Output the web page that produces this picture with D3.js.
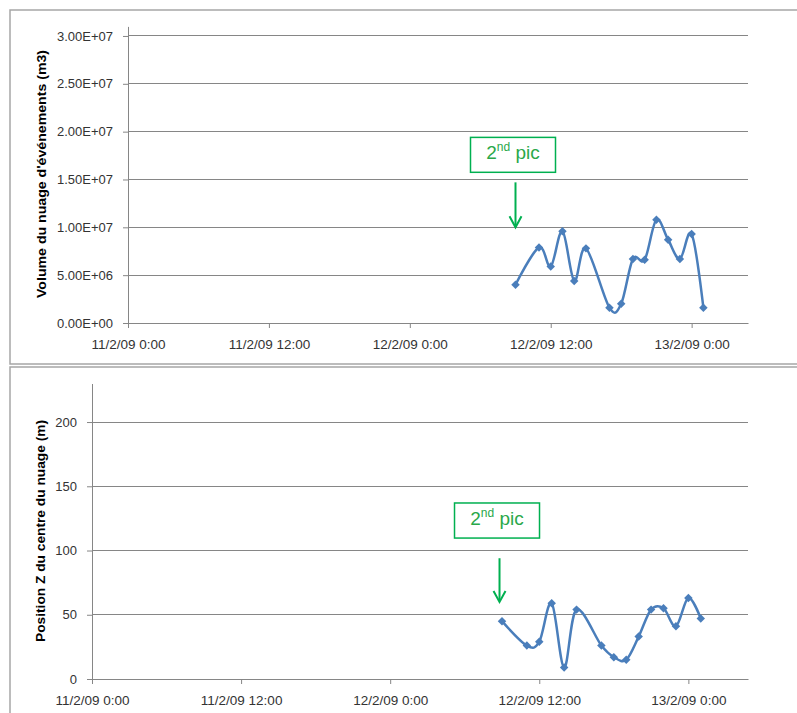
<!DOCTYPE html>
<html><head><meta charset="utf-8">
<script src="https://cdn.jsdelivr.net/npm/d3@7"></script>
<style>body{margin:0;background:#fff}svg{display:block}</style>
</head><body>
<svg id="c" width="797" height="713"></svg>
<script>
// ---- data ----
const times = ["2009-02-12T09:00","2009-02-12T11:00","2009-02-12T12:00","2009-02-12T13:00","2009-02-12T14:00",
  "2009-02-12T15:00","2009-02-12T17:00","2009-02-12T18:00","2009-02-12T19:00","2009-02-12T20:00",
  "2009-02-12T21:00","2009-02-12T22:00","2009-02-12T23:00","2009-02-13T00:00","2009-02-13T01:00"];
const volume = [4.0e6,7.9e6,5.9e6,9.6e6,4.4e6,7.8e6,1.6e6,2.0e6,6.7e6,6.6e6,10.8e6,8.7e6,6.7e6,9.3e6,1.6e6];
const posZ = [45,26,29,59,9,54,26,17,15,33,54,55,41,63,47];
const xTicks = ["2009-02-11T00:00","2009-02-11T12:00","2009-02-12T00:00","2009-02-12T12:00","2009-02-13T00:00"];
const volTicks = [0,5e6,1e7,1.5e7,2e7,2.5e7,3e7];
const zTicks = [0,50,100,150,200];
const xDomain = ["2009-02-11T00:00","2009-02-13T04:48"];
const annoText = "2nd pic";

const parse = d3.isoParse;
const svg = d3.select("#c");
const gridCol = "#868686", lineCol = "#4a7ebb", green = "#00b050";
const font = "'Liberation Sans', Arial, sans-serif";
const fmtX = d3.timeFormat("%-d/%-m/%y %-H:%M");

// panel borders
svg.append("rect").attr("x",10).attr("y",10).attr("width",800).attr("height",354)
  .attr("fill","none").attr("stroke","#a6a6a6").attr("stroke-width",1.5);
svg.append("rect").attr("x",10).attr("y",367).attr("width",800).attr("height",360)
  .attr("fill","none").attr("stroke","#a6a6a6").attr("stroke-width",1.5);

function chart(o){
  const x = d3.scaleTime().domain(xDomain.map(parse)).range([o.left, 748]);
  const y = d3.scaleLinear().domain([0,o.ymax]).range([o.bottom, o.top]);
  const g = svg.append("g");
  // gridlines
  g.selectAll(".grid").data(o.yTicks.filter(d=>d>0)).join("line")
    .attr("x1",o.left).attr("x2",748).attr("y1",d=>y(d)).attr("y2",d=>y(d))
    .attr("stroke",gridCol).attr("stroke-width",1).attr("shape-rendering","crispEdges");
  // y axis
  const ya = g.append("g").attr("transform",`translate(${o.left},0)`)
    .call(d3.axisLeft(y).tickValues(o.yTicks).tickSize(5).tickPadding(10).tickFormat(o.yfmt).tickSizeOuter(0));
  ya.select(".domain").attr("stroke",gridCol);
  ya.selectAll(".tick line").attr("stroke",gridCol);
  ya.selectAll("text").attr("font-family",font).attr("font-size",13).attr("fill","#333");
  // x axis
  const xa = g.append("g").attr("transform",`translate(0,${o.bottom})`)
    .call(d3.axisBottom(x).tickValues(xTicks.map(parse)).tickSize(5).tickFormat(fmtX).tickSizeOuter(0));
  xa.select(".domain").attr("stroke",gridCol);
  xa.selectAll(".tick line").attr("stroke",gridCol);
  xa.selectAll("text").attr("font-family",font).attr("font-size",13.5).attr("fill","#333")
    .attr("dy",null).attr("y",26);
  // axis title
  g.append("text").attr("transform",`translate(${o.titleX},${o.titleY}) rotate(-90)`)
    .attr("text-anchor","middle").attr("font-family",font).attr("font-weight","bold")
    .attr("font-size",12.5).attr("fill","#000")
    .attr("textLength",o.titleLen).attr("lengthAdjust","spacingAndGlyphs").text(o.title);
  // line
  const pts = times.map((t,i)=>[x(parse(t)), y(o.values[i])]);
  g.append("path").attr("d", d3.line().curve(d3.curveCatmullRom.alpha(0))(pts))
    .attr("fill","none").attr("stroke",lineCol).attr("stroke-width",2.5);
  g.selectAll(".m").data(pts).join("path")
    .attr("d", d3.symbol(d3.symbolSquare, 36)())
    .attr("transform",d=>`translate(${d[0]},${d[1]}) rotate(45)`)
    .attr("fill",lineCol);
  // annotation
  const ax = x(parse(o.arrowTime));
  const tipY = y(o.arrowTip), tailY = y(o.arrowTail);
  g.append("line").attr("x1",ax).attr("x2",ax).attr("y1",tailY).attr("y2",tipY-1)
    .attr("stroke",green).attr("stroke-width",2);
  g.append("path").attr("d",`M${ax-6},${tipY-11}L${ax},${tipY}L${ax+6},${tipY-11}`)
    .attr("fill","none").attr("stroke",green).attr("stroke-width",2);
  const bT = y(o.boxTop), bB = y(o.boxBottom), bc = ax - 2.5;
  g.append("rect").attr("x",bc-42.5).attr("y",bT).attr("width",85).attr("height",bB-bT)
    .attr("fill","#fff").attr("stroke",green).attr("stroke-width",1.5);
  const t = g.append("text").attr("x",bc).attr("y",bB-13).attr("text-anchor","middle")
    .attr("font-family",font).attr("font-size",19).attr("fill","#2aa84a");
  t.append("tspan").text(annoText.slice(0,1));
  t.append("tspan").attr("font-size",12).attr("dy",-8).text(annoText.slice(1,3));
  t.append("tspan").attr("dy",8).text(annoText.slice(3));
}

chart({left:128, top:26.4, bottom:323, ymax:3.1e7, values:volume, yTicks:volTicks,
  yfmt:d=>d.toExponential(2).toUpperCase().replace(/E\+(\d)$/,"E+0$1").replace(/E([+-])(\d\d)$/,"E$1$2"),
  title:"Volume du nuage d'événements (m3)", titleX:46, titleY:174, titleLen:248,
  arrowTime:"2009-02-12T09:00", arrowTip:1.0e7, arrowTail:1.47e7, boxTop:1.94e7, boxBottom:1.575e7});

chart({left:92, top:383.5, bottom:679, ymax:230, values:posZ, yTicks:zTicks,
  yfmt:d3.format("d"),
  title:"Position Z du centre du nuage  (m)", titleX:45, titleY:531, titleLen:222,
  arrowTime:"2009-02-12T08:48", arrowTip:60, arrowTail:94, boxTop:137, boxBottom:109.7});
</script>
</body></html>
